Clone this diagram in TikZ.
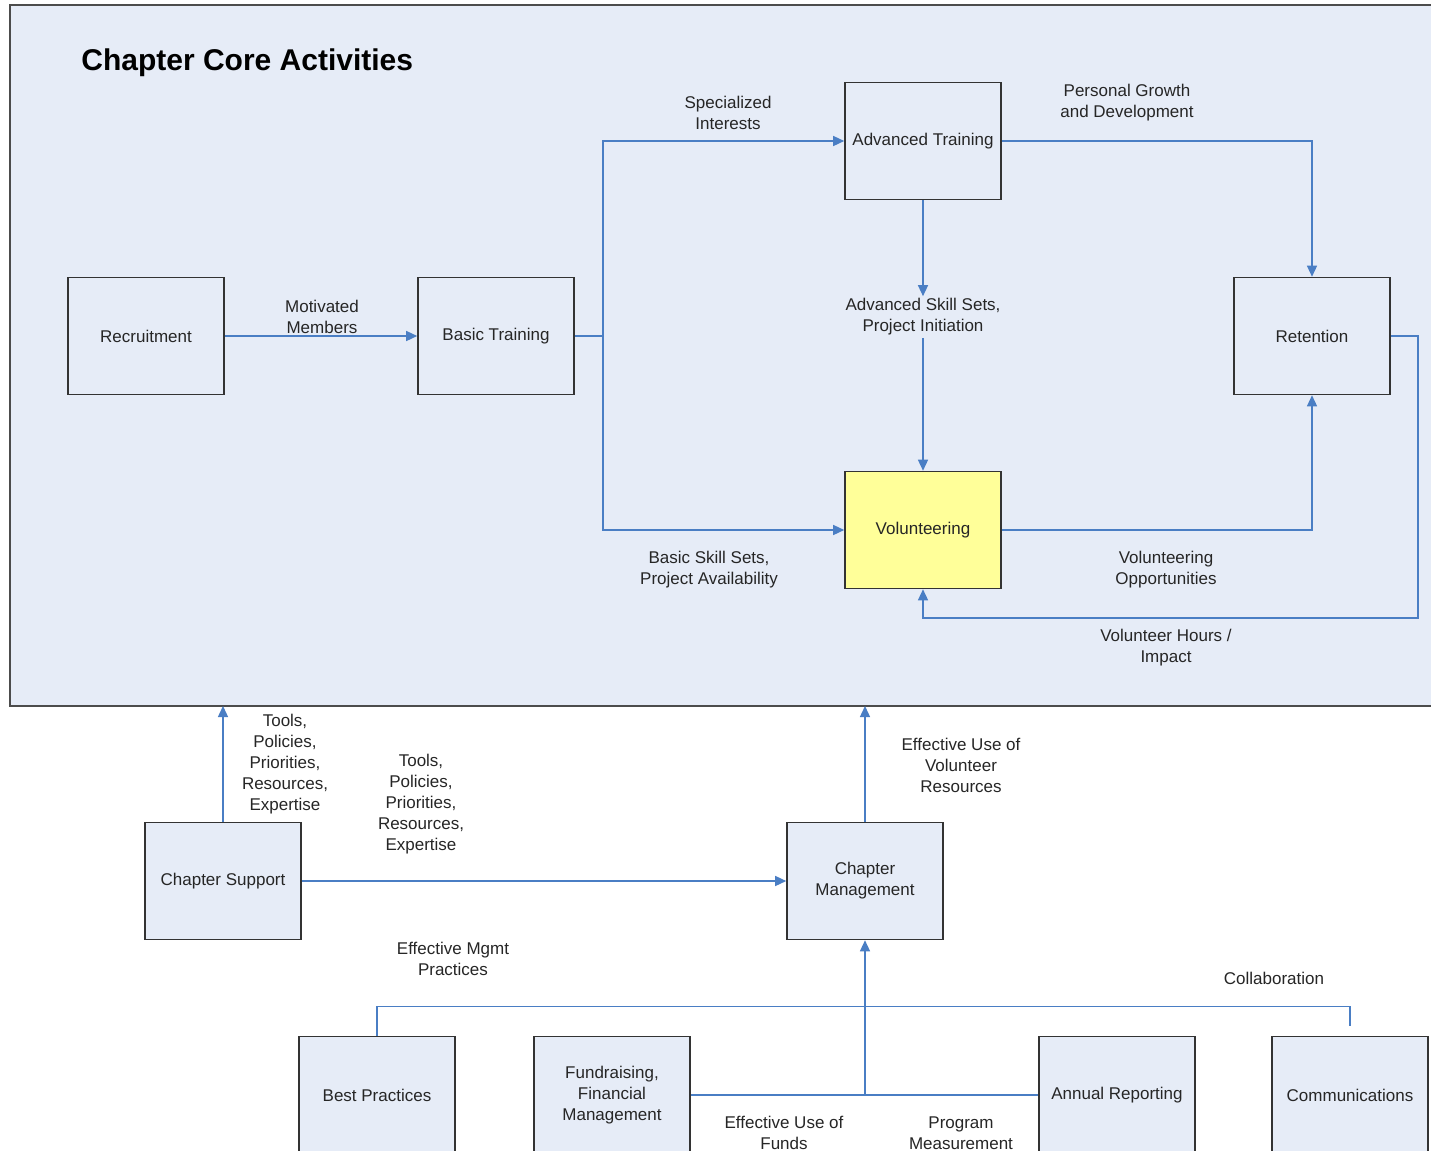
\documentclass[tikz,border=0pt]{standalone}
\usepackage{fontspec}
\setmainfont{Liberation Sans}
\usepackage{xcolor}
\usepackage{tikz}
\usetikzlibrary{arrows.meta}
\usetikzlibrary{calc}
\usetikzlibrary{positioning}

\definecolor{corebg}{HTML}{E6ECF7}
\definecolor{flowblue}{HTML}{4A7EC4}
\definecolor{volyellow}{HTML}{FFFF99}
\definecolor{boxline}{HTML}{333333}

\tikzset{
	box/.style={draw=boxline,line width=0.8pt,minimum width=78pt,minimum height=58.5pt,inner sep=1pt,align=center,text=black!85},
	subbox/.style={box,fill=corebg},
	flow/.style={draw=flowblue,line width=0.7pt,-{Triangle[length=5.5pt,width=5pt]}},
	plain/.style={draw=flowblue,line width=0.7pt},
	lbl/.style={align=center,inner sep=1pt,text=black!85},
}

\begin{document}
\begin{tikzpicture}[x=0.5pt,y=-0.5pt,font=\fontsize{8.5}{10.5}\selectfont]
	\useasboundingbox (0,0) rectangle (1431,1151);
	\clip (0,0) rectangle (1431,1151);
	\fill[white] (0,0) rectangle (1431,1151);
	
	% core activities panel
	\draw[fill=corebg,draw=black!70,line width=1pt] (10,5) rectangle (1450,706);
	\coordinate (corebottom) at (0,706);
	\node[anchor=west,inner sep=0pt,font=\fontsize{15}{17}\selectfont\bfseries] (title) at (81,63) {Chapter Core Activities};
	
	\node[box] (rec) at (146,336) {Recruitment};
	\node[box] (basic) at (496,336) {Basic Training};
	\node[box] (adv) at (923,141) {Advanced Training};
	\node[box] (ret) at (1312,336) {Retention};
	\node[box,fill=volyellow] (vol) at (923,530) {Volunteering};
	
	\coordinate (split) at (603,336);
	\node[lbl] (askill) at (923,317) {Advanced Skill Sets,\\Project Initiation};
	
	\draw[flow] (rec) -- (basic);
	\draw[plain] (basic) -- (split);
	\draw[flow] (split) |- (adv.west);
	\draw[flow] (split) |- (vol.west);
	\draw[flow] (adv.south) -- (askill.north);
	\draw[flow] (askill.south) -- (vol.north);
	\draw[flow] (adv.east) -| (ret.north);
	\draw[flow] (vol.east) -| (ret.south);
	\draw[flow] (ret.east) -| (1418,618) -| (vol.south);
	
	\node[lbl] at (322,317) {Motivated\\Members};
	\node[lbl] at (728,113) {Specialized\\Interests};
	\node[lbl] at (1127,103) {Personal Growth\\and Development};
	\node[lbl] at (709,570) {Basic Skill Sets,\\Project Availability};
	\node[lbl] at (1166,570) {Volunteering\\Opportunities};
	\node[lbl] at (1166,648) {Volunteer Hours /\\Impact};
	
	% support and management
	\node[subbox] (support) at (223,881) {Chapter Support};
	\node[subbox] (mgmt) at (865,881) {Chapter\\Management};
	
	\draw[flow] (support.north) -- (support.north |- corebottom);
	\draw[flow] (support) -- (mgmt);
	\draw[flow] (mgmt.north) -- (mgmt.north |- corebottom);
	
	\node[lbl] at (285,764) {Tools,\\Policies,\\Priorities,\\Resources,\\Expertise};
	\node[lbl] at (421,804) {Tools,\\Policies,\\Priorities,\\Resources,\\Expertise};
	\node[lbl] at (961,765) {Effective Use of\\Volunteer\\Resources};
	
	% functions
	\node[subbox] (best) at (377,1095) {Best Practices};
	\node[subbox] (fund) at (612,1095) {Fundraising,\\Financial\\Management};
	\node[subbox] (annual) at (1117,1095) {Annual Reporting};
	\node[subbox] (comm) at (1350,1095) {Communications};
	
	\coordinate (hub) at (mgmt.south |- fund.east);
	\coordinate (commtop) at ($(comm.north)+(0,-10)$);
	\draw[plain] (fund.east) -- (annual.west);
	\draw[flow] (hub) -- (mgmt.south);
	\draw[plain] (best.north) -- ++(0,-29) -| (commtop);
	
	\node[lbl] at (453,959) {Effective Mgmt\\Practices};
	\node[lbl] at (1274,978) {Collaboration};
	\node[lbl] at (784,1133) {Effective Use of\\Funds};
	\node[lbl] at (961,1133) {Program\\Measurement};
	
\end{tikzpicture}
\end{document}
